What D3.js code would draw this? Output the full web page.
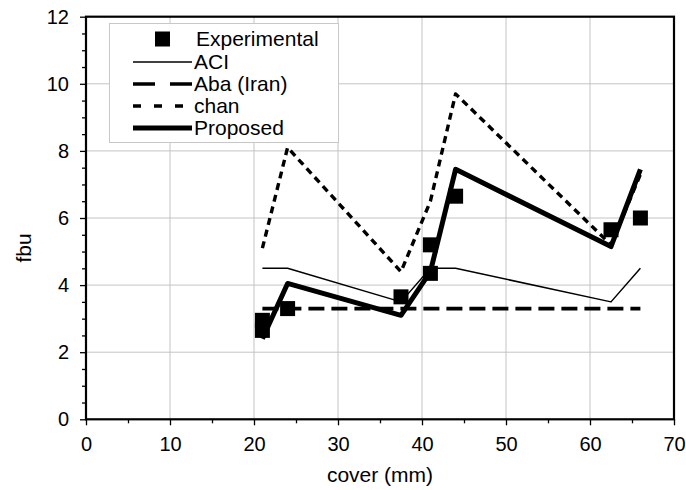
<!DOCTYPE html>
<html>
<head>
<meta charset="utf-8">
<script src="https://cdn.jsdelivr.net/npm/d3@7"></script>
<style>
  html, body { margin: 0; padding: 0; background: #fff; }
  svg { display: block; font-family: "Liberation Sans", Arial, sans-serif; }
</style>
</head>
<body>
<svg id="chart" width="686" height="490"></svg>
<script>
// ---- data ----
const cover = [21, 24, 37.5, 41, 44, 62.5, 66];
const expCover = [21, 21, 24, 37.5, 41, 41, 44, 62.5, 66];
const expFbu = [2.95, 2.65, 3.3, 3.65, 4.35, 5.2, 6.65, 5.65, 6.0];
const aciFbu = [4.5, 4.5, 3.5, 4.5, 4.5, 3.5, 4.5];
const abaFbu = [3.3, 3.3, 3.3, 3.3, 3.3, 3.3, 3.3];
const chanFbu = [5.1, 8.1, 4.4, 6.5, 9.7, 5.2, 7.3];
const proposedFbu = [2.4, 4.05, 3.1, 4.4, 7.45, 5.15, 7.45];
const xTicks = [0, 10, 20, 30, 40, 50, 60, 70];
const yTicks = [0, 2, 4, 6, 8, 10, 12];
const legendLabels = ["Experimental", "ACI", "Aba (Iran)", "chan", "Proposed"];

// ---- layout ----
const svg = d3.select("#chart");
const x = d3.scaleLinear().domain([0, 70]).range([86, 674]);
const y = d3.scaleLinear().domain([0, 12]).range([419.3, 16.7]);

// gridlines
const grid = svg.append("g");
grid.selectAll("line.v").data(xTicks.filter(d => d > 0 && d < 70)).enter().append("line")
  .attr("x1", d => x(d)).attr("x2", d => x(d))
  .attr("y1", y(0)).attr("y2", y(12))
  .attr("stroke", "#c4c4c4").attr("stroke-width", 1);
grid.selectAll("line.h").data(yTicks.filter(d => d > 0 && d < 12)).enter().append("line")
  .attr("x1", x(0)).attr("x2", x(70))
  .attr("y1", d => y(d)).attr("y2", d => y(d))
  .attr("stroke", "#c4c4c4").attr("stroke-width", 1);

// axes
const xAxis = d3.axisBottom(x).tickValues(xTicks).tickSize(6).tickPadding(12);
const xMinor = d3.axisBottom(x).tickValues(d3.range(5, 70, 10)).tickSize(4).tickFormat("");
const yAxis = d3.axisLeft(y).tickValues(yTicks).tickSize(6).tickPadding(11);
const yMinor = d3.axisLeft(y).tickValues(d3.range(0.5, 12, 0.5).filter(v => v % 2 !== 0)).tickSize(4).tickFormat("");

function styleAxis(g) {
  g.select(".domain").remove();
  g.selectAll("line").attr("stroke", "#000").attr("stroke-width", 1.3);
  g.selectAll("text").attr("font-size", 20).attr("fill", "#000")
    .attr("font-family", "'Liberation Sans', Arial, sans-serif");
}
svg.append("g").attr("transform", `translate(0,${y(0)})`).call(xAxis).call(styleAxis);
svg.append("g").attr("transform", `translate(0,${y(0)})`).call(xMinor).call(styleAxis);
svg.append("g").attr("transform", `translate(${x(0)},0)`).call(yAxis).call(styleAxis);
svg.append("g").attr("transform", `translate(${x(0)},0)`).call(yMinor).call(styleAxis);

// frame
svg.append("rect")
  .attr("x", x(0)).attr("y", y(12))
  .attr("width", x(70) - x(0)).attr("height", y(0) - y(12))
  .attr("fill", "none").attr("stroke", "#000").attr("stroke-width", 2.2);

// axis titles
svg.append("text").attr("x", (x(0) + x(70)) / 2).attr("y", 481.5)
  .attr("text-anchor", "middle").attr("font-size", 21).text("cover (mm)");
svg.append("text").attr("transform", "translate(31,248) rotate(-90)")
  .attr("text-anchor", "middle").attr("font-size", 21).text("fbu");

// lines
const line = d3.line().x((d, i) => x(cover[i])).y(d => y(d));
const series = [
  { vals: aciFbu, w: 1.5, dash: null },
  { vals: abaFbu, w: 3.6, dash: "16,7" },
  { vals: chanFbu, w: 3.4, dash: "7,5" },
  { vals: proposedFbu, w: 5, dash: null }
];
series.forEach(s => {
  svg.append("path").datum(s.vals)
    .attr("d", line)
    .attr("fill", "none").attr("stroke", "#000")
    .attr("stroke-width", s.w)
    .attr("stroke-linejoin", "round")
    .attr("stroke-dasharray", s.dash);
});

// experimental squares
const sq = 15;
svg.append("g").selectAll("rect").data(expFbu).enter().append("rect")
  .attr("x", (d, i) => x(expCover[i]) - sq / 2)
  .attr("y", d => y(d) - sq / 2)
  .attr("width", sq).attr("height", sq).attr("fill", "#000");

// legend
const lg = svg.append("g");
lg.append("rect").attr("x", 109.5).attr("y", 23.5).attr("width", 229).attr("height", 119)
  .attr("fill", "#fff").attr("stroke", "#c8c8c8").attr("stroke-width", 1);
const rowY = [39, 62, 84, 106, 128];
lg.append("rect").attr("x", 162.5 - sq / 2).attr("y", rowY[0] - sq / 2)
  .attr("width", sq).attr("height", sq).attr("fill", "#000");
const legStyles = [null,
  { w: 1.5, dash: null },
  { w: 3.6, dash: "22,15" },
  { w: 3.4, dash: "8,13" },
  { w: 5, dash: null }];
legStyles.forEach((s, i) => {
  if (!s) return;
  lg.append("line").attr("x1", 133).attr("x2", 192)
    .attr("y1", rowY[i]).attr("y2", rowY[i])
    .attr("stroke", "#000").attr("stroke-width", s.w)
    .attr("stroke-dasharray", s.dash);
});
lg.selectAll("text").data(legendLabels).enter().append("text")
  .attr("x", (d, i) => i === 0 ? 196 : 194)
  .attr("y", (d, i) => rowY[i] + 7.3)
  .attr("font-size", 21).text(d => d);
</script>
</body>
</html>
